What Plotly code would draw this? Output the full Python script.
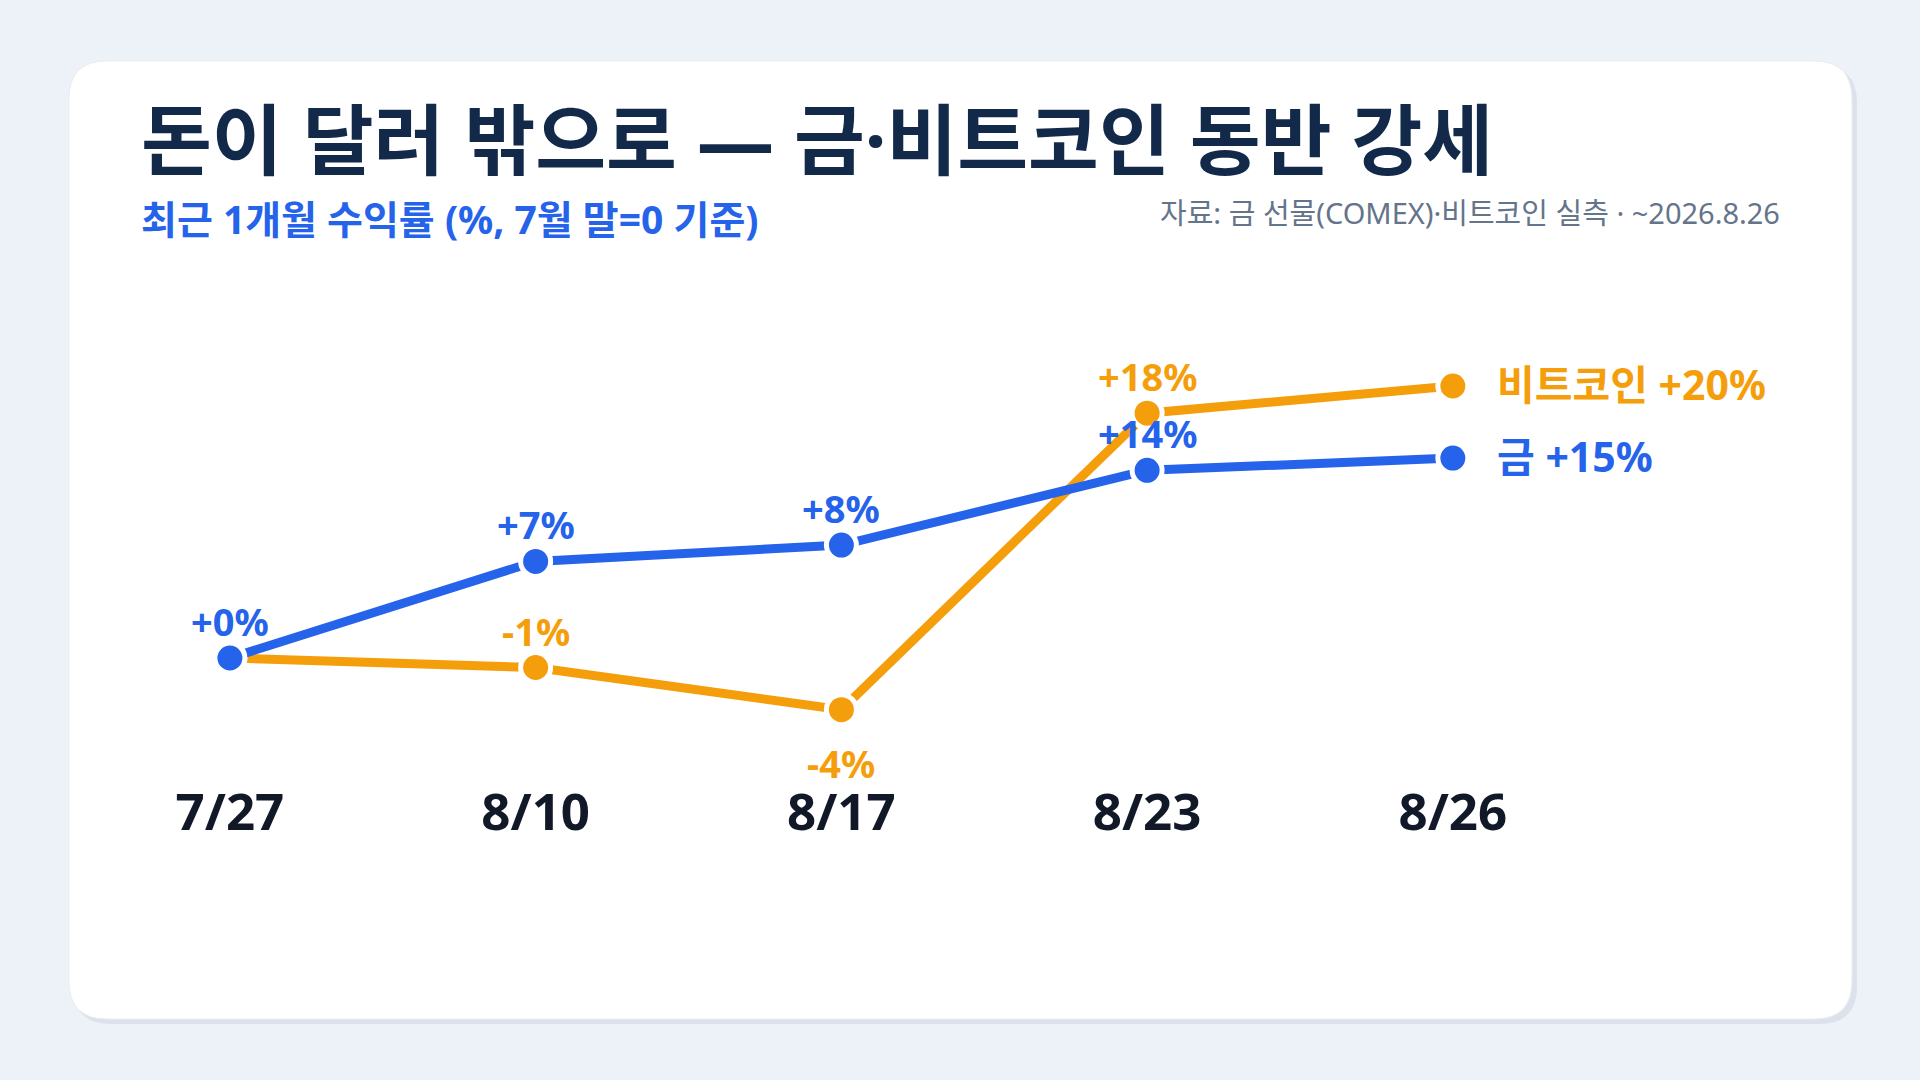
import plotly.graph_objects as go

# Data (returns in %, end of July = 0)
dates = ["7/27", "8/10", "8/17", "8/23", "8/26"]
gold = [0.0, 7.1, 8.3, 13.8, 14.7]
bitcoin = [0.0, -0.7, -3.8, 18.0, 20.0]
gold_name = "금"
btc_name = "비트코인"

title = "돈이 달러 밖으로 — 금·비트코인 동반 강세"
subtitle = "최근 1개월 수익률 (%, 7월 말=0 기준)"
source = "자료: 금 선물(COMEX)·비트코인 실측 · ~2026.8.26"

BLUE = "#2563EB"
ORANGE = "#F59E0B"
FONT = "Noto Sans, Noto Sans CJK KR"
W, H = 1920, 1080


def rounded_rect(x0, y0, x1, y1, r):
    # pixel coords (top-left origin) -> paper path
    def p(x, y):
        return f"{x / W:.5f},{1 - y / H:.5f}"
    return (f"M {p(x0 + r, y0)} L {p(x1 - r, y0)} Q {p(x1, y0)} {p(x1, y0 + r)} "
            f"L {p(x1, y1 - r)} Q {p(x1, y1)} {p(x1 - r, y1)} "
            f"L {p(x0 + r, y1)} Q {p(x0, y1)} {p(x0, y1 - r)} "
            f"L {p(x0, y0 + r)} Q {p(x0, y0)} {p(x0 + r, y0)} Z")


fig = go.Figure()

# bitcoin first so gold sits on top
for vals, color, name in [(bitcoin, ORANGE, btc_name), (gold, BLUE, gold_name)]:
    fig.add_trace(go.Scatter(
        x=dates, y=vals, mode="lines+markers", name=name,
        line=dict(color=color, width=9),
        marker=dict(size=30, color=color, line=dict(color="white", width=5)),
        hoverinfo="skip",
    ))

annotations = []

# point labels
label_spots = [
    (gold, BLUE, [0, 1, 2, 3], []),
    (bitcoin, ORANGE, [1, 3], [2]),
]
for vals, color, above, below in label_spots:
    for i in above + below:
        annotations.append(dict(
            x=dates[i], y=vals[i], text=f"{round(vals[i]):+d}%",
            showarrow=False, yshift=37 if i in above else -53, borderpad=0,
            font=dict(family=FONT, size=38, color=color, weight=700),
        ))

# end labels
for vals, color, name in [(bitcoin, ORANGE, btc_name), (gold, BLUE, gold_name)]:
    annotations.append(dict(
        x=dates[-1], y=vals[-1], text=f"{name} {round(vals[-1]):+d}%",
        showarrow=False, xanchor="left", xshift=42, yshift=2,
        font=dict(family=FONT, size=41, color=color, weight=700),
    ))

# titles
annotations += [
    dict(x=139 / W, y=1 - 139 / H, xref="paper", yref="paper", text=title,
         showarrow=False, xanchor="left", yanchor="middle",
         font=dict(family=FONT, size=77, color="#12294A", weight=700)),
    dict(x=139 / W, y=1 - 219 / H, xref="paper", yref="paper", text=subtitle,
         showarrow=False, xanchor="left", yanchor="middle",
         font=dict(family=FONT, size=39, color=BLUE, weight=700)),
    dict(x=1782 / W, y=1 - 213 / H, xref="paper", yref="paper", text=source,
         showarrow=False, xanchor="right", yanchor="middle",
         font=dict(family=FONT, size=29, color="#64748B")),
]

fig.update_layout(
    width=W, height=H,
    margin=dict(l=0, r=0, t=0, b=0),
    paper_bgcolor="#EDF1F8",
    plot_bgcolor="rgba(0,0,0,0)",
    showlegend=False,
    annotations=annotations,
    shapes=[
        dict(type="path", xref="paper", yref="paper", layer="below",
             path=rounded_rect(73, 65, 1857, 1024, 38),
             fillcolor="#DCE1EA", line=dict(width=0)),
        dict(type="path", xref="paper", yref="paper", layer="below",
             path=rounded_rect(69, 61, 1852, 1019, 38),
             fillcolor="white", line=dict(color="#E9EDF3", width=1)),
    ],
    xaxis=dict(
        type="category", range=[-0.752, 5.528],
        anchor="free", position=1 - 778 / H,
        showgrid=False, zeroline=False, showline=False, ticks="",
        tickfont=dict(family=FONT, size=51, color="#111827", weight=700),
    ),
    yaxis=dict(
        range=[-31.03, 48.38], domain=[0, 1],
        visible=False, showgrid=False, zeroline=False,
    ),
)

fig.write_html("out.html", config={"displayModeBar": False},
               post_script="document.body.style.margin='0';")
